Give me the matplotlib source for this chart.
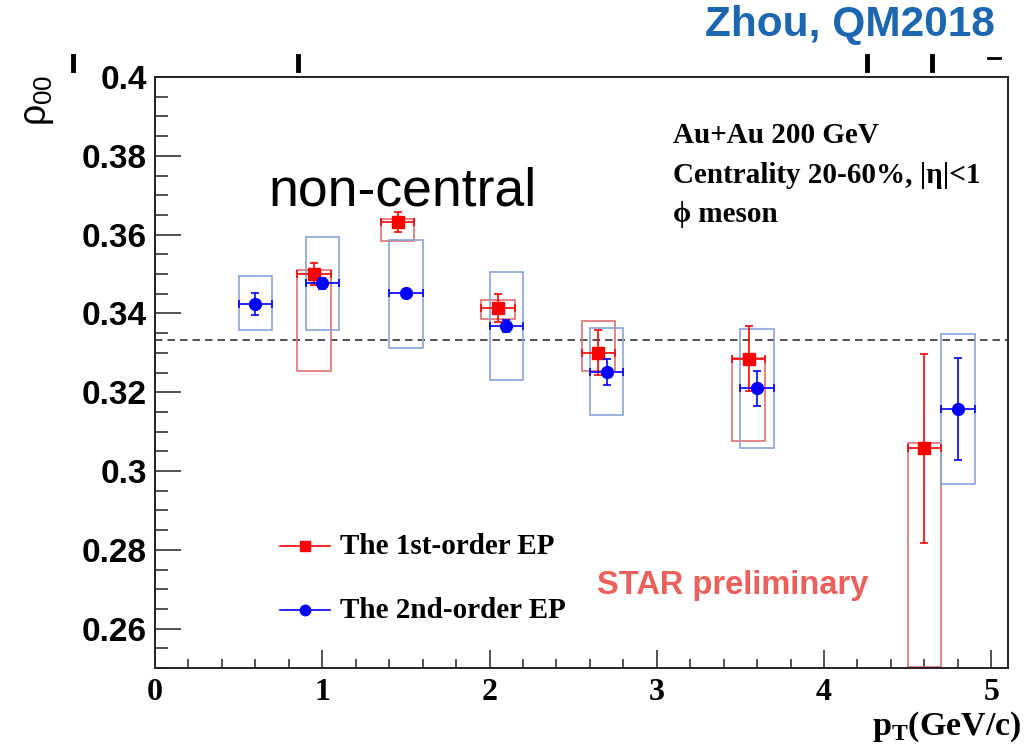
import matplotlib
matplotlib.use("Agg")
import matplotlib.pyplot as plt
from matplotlib.patches import Rectangle
from matplotlib.lines import Line2D
from matplotlib.ticker import FixedLocator, MultipleLocator

# ---- data: phi-meson rho_00 vs pT ----
pt_ep1 = [0.95, 1.45, 2.05, 2.65, 3.55, 4.60]
rho_ep1 = [0.3500, 0.3632, 0.3414, 0.3300, 0.3285, 0.3058]
stat_ep1 = [0.0028, 0.0025, 0.0035, 0.0057, 0.0082, 0.0240]
sys_lo_ep1 = [0.3253, 0.3585, 0.3387, 0.3253, 0.3075, 0.2503]
sys_hi_ep1 = [0.3509, 0.3640, 0.3435, 0.3380, 0.3286, 0.3071]

pt_ep2 = [0.60, 1.00, 1.50, 2.10, 2.70, 3.60, 4.80]
rho_ep2 = [0.3425, 0.3476, 0.3451, 0.3367, 0.3251, 0.3210, 0.3157]
stat_ep2 = [0.0028, 0.0014, 0.0008, 0.0015, 0.0032, 0.0045, 0.0130]
sys_lo_ep2 = [0.3357, 0.3357, 0.3311, 0.3230, 0.3142, 0.3058, 0.2967]
sys_hi_ep2 = [0.3496, 0.3593, 0.3587, 0.3504, 0.3362, 0.3360, 0.3347]

bin_halfwidth = 0.1
rho_unpolarized = 1.0 / 3.0

x_ticks = [0, 1, 2, 3, 4, 5]
x_ticklabels = ["0", "1", "2", "3", "4", "5"]
y_ticks = [0.26, 0.28, 0.30, 0.32, 0.34, 0.36, 0.38, 0.40]
y_ticklabels = ["0.26", "0.28", "0.3", "0.32", "0.34", "0.36", "0.38", "0.4"]

legend_labels = ["The 1st-order EP", "The 2nd-order EP"]

RED = "#ff0000"
BLUE = "#0000ff"
RED_BOX = "#e07070"
BLUE_BOX = "#86a4dc"

plt.rcParams["mathtext.fontset"] = "custom"
plt.rcParams["mathtext.rm"] = "Liberation Sans"
plt.rcParams["mathtext.it"] = "Liberation Sans"
plt.rcParams["mathtext.bf"] = "Liberation Serif:bold"

W, H = 1026, 752
fig = plt.figure(figsize=(W / 100, H / 100), dpi=100)
ax = fig.add_axes([155 / W, 1 - 668 / H, (1008 - 155) / W, (668 - 77) / H])
ax.set_xlim(0, 5.1)
ax.set_ylim(0.25, 0.40)


def fx(px):
    return px / W


def fy(py):
    return 1 - py / H


# systematic boxes
for x, lo, hi in zip(pt_ep1, sys_lo_ep1, sys_hi_ep1):
    ax.add_patch(Rectangle((x - bin_halfwidth, lo), 2 * bin_halfwidth, hi - lo,
                           fill=False, edgecolor=RED_BOX, lw=1.2, zorder=2))
for x, lo, hi in zip(pt_ep2, sys_lo_ep2, sys_hi_ep2):
    ax.add_patch(Rectangle((x - bin_halfwidth, lo), 2 * bin_halfwidth, hi - lo,
                           fill=False, edgecolor=BLUE_BOX, lw=1.2, zorder=2))

ax.axhline(rho_unpolarized, color="#333333", lw=1.2, ls=(0, (4.5, 3)), zorder=1)

ax.errorbar(pt_ep1, rho_ep1, yerr=stat_ep1, xerr=bin_halfwidth, fmt="s",
            color=RED, ms=8.5, elinewidth=1.2, capsize=2.8, capthick=1.2, zorder=4)
ax.errorbar(pt_ep2, rho_ep2, yerr=stat_ep2, xerr=bin_halfwidth, fmt="o",
            color=BLUE, ms=8.5, elinewidth=1.2, capsize=2.8, capthick=1.2, zorder=5)

# axes styling
for side in ["left", "bottom", "top", "right"]:
    ax.spines[side].set_linewidth(1.4)
    ax.spines[side].set_color("#222222")
ax.xaxis.set_major_locator(FixedLocator(x_ticks))
ax.xaxis.set_minor_locator(MultipleLocator(0.2))
ax.yaxis.set_major_locator(FixedLocator(y_ticks))
ax.yaxis.set_minor_locator(MultipleLocator(0.005))
ax.set_xticklabels(x_ticklabels, fontfamily="Liberation Serif", fontweight="bold", fontsize=23)
ax.set_yticklabels(y_ticklabels, fontfamily="Liberation Sans", fontweight="bold", fontsize=24)
ax.tick_params(axis="x", which="major", direction="in", length=13, width=1.1, pad=7, color="#222222")
ax.tick_params(axis="x", which="minor", direction="in", length=6.5, width=1.1, color="#222222")
ax.tick_params(axis="y", which="major", direction="in", length=18.7, width=1.1, pad=6, color="#222222")
ax.tick_params(axis="y", which="minor", direction="in", length=9.4, width=1.1, color="#222222")

# axis titles
fig.text(fx(1022), fy(735), r"$\mathbf{p}_{\mathbf{T}}$(GeV/c)", ha="right", va="baseline",
         fontfamily="Liberation Serif", fontweight="bold", fontsize=24.5)
fig.text(fx(38), fy(100), r"$\rho_{00}$", rotation=90, ha="center", va="center",
         fontfamily="Liberation Sans", fontsize=27)

# annotations
fig.text(fx(995), fy(25), "Zhou, QM2018", ha="right", va="center", color="#1b67b2",
         fontfamily="Liberation Sans", fontweight="bold", fontsize=30.5)
fig.text(fx(268), fy(205), "non-central", ha="left", va="baseline", color="black",
         fontfamily="Liberation Sans", fontsize=38.5)
info_lines = ["Au+Au 200 GeV", "Centrality 20-60%, |η|<1", "ϕ meson"]
for line, base in zip(info_lines, [143, 183, 222]):
    fig.text(fx(673), fy(base), line, ha="left", va="baseline",
             fontfamily="Liberation Serif", fontweight="bold", fontsize=21)
fig.text(fx(597), fy(594), "STAR preliminary", ha="left", va="baseline", color="#ec5f5a",
         fontfamily="Liberation Sans", fontweight="bold", fontsize=23.5)

# legend entries
for label, color, marker, ms, ypx in [(legend_labels[0], RED, "s", 7, 546),
                                      (legend_labels[1], BLUE, "o", 7.5, 610)]:
    fig.add_artist(Line2D([fx(280), fx(330)], [fy(ypx), fy(ypx)], color=color, lw=1.2))
    fig.add_artist(Line2D([fx(305)], [fy(ypx)], color=color, marker=marker, ms=ms, lw=0))
    fig.text(fx(340), fy(ypx + 8), label, ha="left", va="baseline",
             fontfamily="Liberation Serif", fontweight="bold", fontsize=21)

# stray tick stubs along the top edge
for xp in [73, 298, 867, 932]:
    fig.add_artist(Line2D([fx(xp), fx(xp)], [fy(56), fy(70)], color="black", lw=3.5))
fig.add_artist(Line2D([fx(988), fx(1000)], [fy(58), fy(58)], color="black", lw=2))

fig.savefig("out.png", dpi=100)
